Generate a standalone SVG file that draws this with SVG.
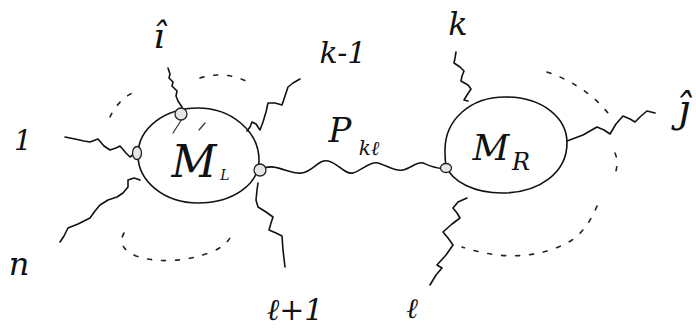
<svg xmlns="http://www.w3.org/2000/svg" width="696" height="331" viewBox="0 0 696 331">
<style>
.leg{fill:none;stroke:#111;stroke-width:1.6;stroke-linejoin:round;stroke-linecap:round}
.blob{fill:none;stroke:#111;stroke-width:1.6}
.dash{fill:none;stroke:#222;stroke-width:1.6;stroke-dasharray:4 10;stroke-linecap:round}
.vtx{fill:#e6e6e6;stroke:#222;stroke-width:1.3}
.hatch{stroke:#333;stroke-width:1.2;stroke-linecap:round}
.lbl{font-family:"DejaVu Serif","Liberation Serif",serif;font-style:italic;fill:#111;text-anchor:middle}
</style>
<rect width="696" height="331" fill="#fff"/>
<g id="connectors">
<path id="prop" class="leg" d="M262,169 C275,162 290,175 302,173 S318,159 328,161 S345,175 353,173 S370,161 378,163 S395,172 403,170 S418,161 423,163 S438,170 446,168"/>
<path id="leg-1" class="leg" d="M65,137 L75,139 L84,141 L90,142 L98,139 L104,146 L110,150 L116,148 L120,146 L126,153 L130,157 L134,154 L137,152"/>
<path id="leg-i" class="leg" d="M168,68 L170,74 L169,78 L173,82 L172,86 L177,91 L176,96 L178,101 L182,107 L181,112"/>
<path id="leg-k1" class="leg" d="M300,79 L293,83 L288,87 L285,96 L282,105 L275,103 L268,103 L266,112 L263,122 L260,130 L256,124 L252,122 L250,127 L247,131"/>
<path id="leg-l1" class="leg" d="M258,183 L257,190 L256,200 L258,207 L266,212 L273,217 L271,223 L269,230 L276,233 L282,236 L283,250 L285,267"/>
<path id="leg-n" class="leg" d="M60,242 L64,236 L68,228 L78,224 L90,218 L95,211 L100,205 L108,200 L117,197 L123,193 L128,187 L128,180 L134,178 L140,180"/>
<path id="leg-k" class="leg" d="M456,52 L455,58 L454,63 L460,67 L464,71 L462,76 L461,81 L468,85 L471,89 L467,95 L464,100 L468,101"/>
<path id="leg-j" class="leg" d="M567,141 L583,135 L597,127 L604,130 L610,134 L616,124 L623,116 L630,119 L635,122 L641,116 L647,111 L655,113"/>
<path id="leg-l" class="leg" d="M467,198 L458,202 L453,208 L457,213 L460,218 L452,224 L443,232 L448,238 L453,245 L446,255 L437,265 L442,268 L436,275 L430,285"/>
<path class="dash" d="M110,117 Q118,100 134,92"/>
<path class="dash" d="M200,78 Q225,70 250,83"/>
<path class="dash" d="M124,233 Q116,247 136,256 Q170,267 212,252 Q225,246 230,238"/>
<path class="dash" d="M547,72 Q585,85 608,113"/>
<path class="dash" d="M615,153 Q619,163 615,174"/>
<path class="dash" d="M597,206 Q585,235 565,244 Q520,266 462,247"/>
</g>
<g id="node-ML">
<path class="blob" d="M138,155 C138,128 165,108 198,108 C232,108 259,132 259,160 C259,185 232,203 198,203 C165,203 138,182 138,155 Z"/>
<line class="hatch" x1="182" y1="119" x2="173" y2="133"/>
<line class="hatch" x1="205" y1="123" x2="199" y2="130"/>
<ellipse class="vtx" cx="137" cy="153" rx="4.5" ry="6.5"/>
<circle class="vtx" cx="181" cy="114" r="6"/>
<circle class="vtx" cx="260" cy="170" r="6"/>
<text class="lbl" x="194" y="177" font-size="44">M</text>
<text class="lbl" x="225" y="180" font-size="14">L</text>
</g>
<g id="node-MR">
<path class="blob" d="M445,150 C445,120 470,97 505,97 C543,97 567,118 567,143 C567,172 540,193 502,193 C475,193 452,182 446,166 C445,160 445,155 445,150 Z"/>
<ellipse class="vtx" cx="446" cy="168" rx="5.5" ry="4.5"/>
<text class="lbl" x="491" y="160" font-size="36">M</text>
<text class="lbl" x="521" y="170" font-size="24">R</text>
</g>
<g id="label-1"><text class="lbl" x="23" y="150" font-size="28">1</text></g>
<g id="label-i"><text class="lbl" x="159" y="48" font-size="36">î</text></g>
<g id="label-k1"><text class="lbl" x="343" y="63" font-size="30">k-1</text></g>
<g id="label-n"><text class="lbl" x="19" y="275" font-size="32">n</text></g>
<g id="label-l1"><text class="lbl" x="295" y="320" font-size="30">ℓ+1</text></g>
<g id="label-P"><text class="lbl" x="340" y="142" font-size="34">P</text><text class="lbl" x="369" y="155" font-size="20">kℓ</text></g>
<g id="label-k"><text class="lbl" x="458" y="35" font-size="32">k</text></g>
<g id="label-j"><text class="lbl" x="684" y="122" font-size="40">ĵ</text></g>
<g id="label-l"><text class="lbl" x="412" y="318" font-size="28">ℓ</text></g>
</svg>
